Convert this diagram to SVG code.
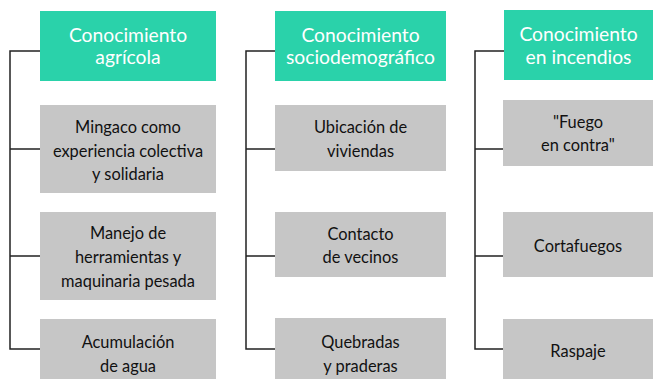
<svg xmlns="http://www.w3.org/2000/svg" width="654" height="379" viewBox="0 0 654 379">
<style>
.hdr{fill:#2AD2AA}
.box{fill:#C6C6C6}
.ht{font-family:Lato,"Noto Sans",sans-serif;font-size:19.3px;fill:#ffffff;text-anchor:middle}
.bt{font-family:Lato,"Noto Sans",sans-serif;font-size:16.4px;fill:#111111;text-anchor:middle}
.con{stroke:#222;stroke-width:1.5;fill:none}
</style>
<rect width="654" height="379" fill="#ffffff"/>
<g id="connectors">
<path class="con" d="M40,51 H10 V349 H40 M10,149 H40 M10,256 H40"/>
<path class="con" d="M275,51 H246 V349 H275 M246,149 H275 M246,256 H275"/>
<path class="con" d="M504,51 H475 V349 H503 M475,149 H503 M475,256 H503"/>
</g>
<g id="h1"><rect class="hdr" x="40" y="11" width="176" height="70"/>
<text class="ht" x="128" y="42">Conocimiento</text><text class="ht" x="128" y="64">agrícola</text></g>
<g id="h2"><rect class="hdr" x="275" y="11" width="171" height="70"/>
<text class="ht" x="360.5" y="42">Conocimiento</text><text class="ht" x="360.5" y="64">sociodemográfico</text></g>
<g id="h3"><rect class="hdr" x="504" y="10" width="149" height="70"/>
<text class="ht" x="578.5" y="41">Conocimiento</text><text class="ht" x="578.5" y="64">en incendios</text></g>
<g id="a1"><rect class="box" x="40" y="105" width="176" height="88"/>
<text class="bt" x="128" y="133">Mingaco como</text><text class="bt" x="128" y="157">experiencia colectiva</text><text class="bt" x="128" y="180">y solidaria</text></g>
<g id="a2"><rect class="box" x="40" y="212" width="176" height="88"/>
<text class="bt" x="128" y="239">Manejo de</text><text class="bt" x="128" y="263">herramientas y</text><text class="bt" x="128" y="287">maquinaria pesada</text></g>
<g id="a3"><rect class="box" x="40" y="319" width="176" height="60"/>
<text class="bt" x="128" y="348">Acumulación</text><text class="bt" x="128" y="372">de agua</text></g>
<g id="s1"><rect class="box" x="275" y="105" width="171" height="66"/>
<text class="bt" x="360.5" y="133">Ubicación de</text><text class="bt" x="360.5" y="157">viviendas</text></g>
<g id="s2"><rect class="box" x="275" y="212" width="171" height="65"/>
<text class="bt" x="360.5" y="240">Contacto</text><text class="bt" x="360.5" y="263">de vecinos</text></g>
<g id="s3"><rect class="box" x="275" y="318" width="171" height="61"/>
<text class="bt" x="360.5" y="348">Quebradas</text><text class="bt" x="360.5" y="372">y praderas</text></g>
<g id="i1"><rect class="box" x="503" y="100" width="150" height="66"/>
<text class="bt" x="578" y="128">"Fuego</text><text class="bt" x="578" y="151">en contra"</text></g>
<g id="i2"><rect class="box" x="503" y="212" width="150" height="65"/>
<text class="bt" x="578" y="252">Cortafuegos</text></g>
<g id="i3"><rect class="box" x="503" y="319" width="150" height="60"/>
<text class="bt" x="578" y="357">Raspaje</text></g>
</svg>
